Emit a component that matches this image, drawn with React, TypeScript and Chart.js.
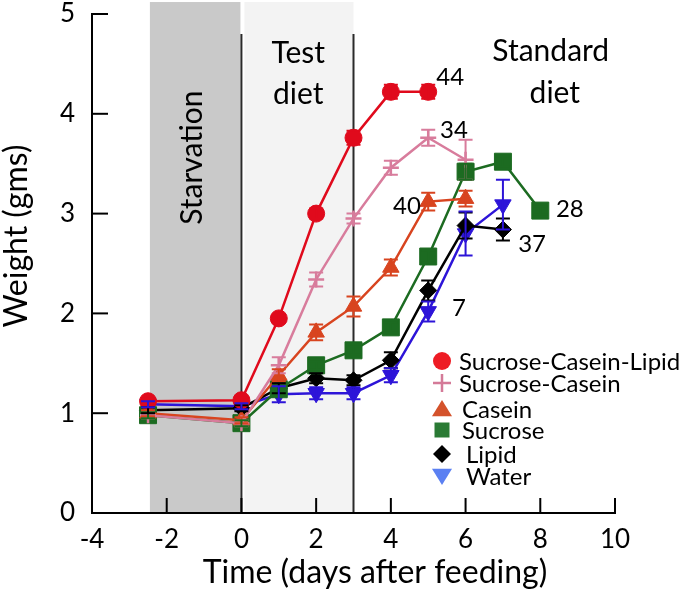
import React, { useEffect, useRef } from 'react';
import { Chart, registerables } from 'chart.js';

Chart.register(...registerables);

const FONT = 'Lato, "Open Sans", "DejaVu Sans", sans-serif';

// ---------------- data ----------------
const seriesNames = ['Sucrose-Casein-Lipid', 'Sucrose-Casein', 'Casein', 'Sucrose', 'Lipid', 'Water'];

const sclDays = [-2.5, 0, 1, 2, 3, 4, 5];
const sclWeight = [1.12, 1.13, 1.95, 3.0, 3.76, 4.22, 4.22];
const sclError = [0.03, 0.03, 0.04, 0.05, 0.07, 0.07, 0.07];

const scDays = [-2.5, 0, 1, 2, 3, 4, 5, 6];
const scWeight = [0.98, 0.9, 1.48, 2.34, 2.95, 3.46, 3.76, 3.54];
const scError = [0.03, 0.03, 0.08, 0.07, 0.05, 0.07, 0.08, 0.2];

const caseinDays = [-2.5, 0, 1, 2, 3, 4, 5, 6];
const caseinWeight = [1.0, 0.93, 1.38, 1.81, 2.07, 2.46, 3.12, 3.15];
const caseinError = [0.03, 0.03, 0.06, 0.08, 0.1, 0.08, 0.09, 0.08];

const sucroseDays = [-2.5, 0, 1, 2, 3, 4, 5, 6, 7, 8];
const sucroseWeight = [0.98, 0.9, 1.24, 1.48, 1.63, 1.86, 2.57, 3.42, 3.52, 3.03];
const sucroseError = [0.03, 0.03, 0.04, 0.04, 0.04, 0.05, 0.06, 0.08, 0.05, 0.04];

const lipidDays = [-2.5, 0, 1, 2, 3, 4, 5, 6, 7];
const lipidWeight = [1.03, 1.05, 1.25, 1.35, 1.33, 1.53, 2.23, 2.88, 2.84];
const lipidError = [0.03, 0.03, 0.05, 0.05, 0.05, 0.08, 0.1, 0.13, 0.11];

const waterDays = [-2.5, 0, 1, 2, 3, 4, 5, 6, 7];
const waterWeight = [1.09, 1.07, 1.19, 1.2, 1.2, 1.38, 2.02, 2.8, 3.09];
const waterError = [0.03, 0.03, 0.08, 0.06, 0.06, 0.07, 0.1, 0.22, 0.25];

// numeric annotations (n per group)
const noteLabels = ['44', '34', '40', '28', '37', '7'];
const noteDays = [5.59, 5.69, 4.43, 8.79, 7.78, 5.82];
const noteWeights = [4.37, 3.84, 3.07, 3.04, 2.69, 2.05];

// phases
const starvationStart = -2.45;
const testDietStart = 0;
const testDietEnd = 3;

const xTickValues = [-4, -2, 0, 2, 4, 6, 8, 10];
const yTickValues = [0, 1, 2, 3, 4, 5];

const xTitle = 'Time (days after feeding)';
const yTitle = 'Weight (gms)';

// ---------------- styles ----------------
const lineColors = ['#e00a1c', '#d87c9c', '#d8441f', '#1c6b21', '#000000', '#2d14d8'];
const legendColors = ['#ee1c24', '#d47a98', '#d4522b', '#2a7a34', '#000000', '#5b80f2'];
const pointStyles = ['circle', 'cross', 'triangle', 'rect', 'rectRot', 'triangle'];
const pointRadii = [8.5, 8, 9.5, 12, 8.5, 9.5];
const pointRotations = [0, 0, 0, 0, 0, 180];

const allDays = [sclDays, scDays, caseinDays, sucroseDays, lipidDays, waterDays];
const allWeights = [sclWeight, scWeight, caseinWeight, sucroseWeight, lipidWeight, waterWeight];
const allErrors = [sclError, scError, caseinError, sucroseError, lipidError, waterError];

function drawMarker(ctx: CanvasRenderingContext2D, style: string, x: number, y: number, r: number, color: string, rot = 0) {
  ctx.save();
  ctx.fillStyle = color;
  ctx.strokeStyle = color;
  ctx.beginPath();
  if (style === 'circle') {
    ctx.arc(x, y, r, 0, Math.PI * 2);
    ctx.fill();
  } else if (style === 'cross') {
    ctx.lineWidth = 2.5;
    ctx.moveTo(x - r, y);
    ctx.lineTo(x + r, y);
    ctx.moveTo(x, y - r);
    ctx.lineTo(x, y + r);
    ctx.stroke();
  } else if (style === 'triangle') {
    const dir = rot === 180 ? -1 : 1;
    const h = r * 0.9;
    ctx.moveTo(x, y - dir * h);
    ctx.lineTo(x + r, y + dir * h * 0.8);
    ctx.lineTo(x - r, y + dir * h * 0.8);
    ctx.closePath();
    ctx.fill();
  } else if (style === 'rect') {
    ctx.rect(x - r, y - r, 2 * r, 2 * r);
    ctx.fill();
  } else if (style === 'rectRot') {
    ctx.moveTo(x, y - r);
    ctx.lineTo(x + r, y);
    ctx.lineTo(x, y + r);
    ctx.lineTo(x - r, y);
    ctx.closePath();
    ctx.fill();
  }
  ctx.restore();
}

const bandsPlugin = {
  id: 'bands',
  beforeDraw(chart: any) {
    const { ctx, chartArea, scales } = chart;
    const x = scales.x;
    const y = scales.y;
    const top = y.getPixelForValue(5.12);
    const bottom = chartArea.bottom;
    const xs = x.getPixelForValue(starvationStart);
    const x0 = x.getPixelForValue(testDietStart);
    const x3 = x.getPixelForValue(testDietEnd);
    ctx.save();
    ctx.fillStyle = '#c9c9c9';
    ctx.fillRect(xs, top, x0 - 1 - xs, bottom - top);
    ctx.fillStyle = '#f3f3f3';
    ctx.fillRect(x0 + 3, top, x3 - x0 - 3, bottom - top);
    ctx.strokeStyle = '#2a2a2a';
    ctx.lineWidth = 2;
    const lineTop = y.getPixelForValue(4.8);
    [x0, x3].forEach((px: number) => {
      ctx.beginPath();
      ctx.moveTo(px, lineTop);
      ctx.lineTo(px, bottom);
      ctx.stroke();
    });
    ctx.restore();
  },
};

const errorBarPlugin = {
  id: 'errorBars',
  afterDatasetsDraw(chart: any) {
    const { ctx, scales } = chart;
    const y = scales.y;
    ctx.save();
    chart.data.datasets.forEach((ds: any, di: number) => {
      const meta = chart.getDatasetMeta(di);
      ctx.strokeStyle = ds.borderColor;
      ctx.lineWidth = 2;
      meta.data.forEach((pt: any, i: number) => {
        const e = ds.errors[i];
        if (!e) return;
        const v = ds.data[i].y;
        const yt = y.getPixelForValue(v + e);
        const yb = y.getPixelForValue(v - e);
        const cx = pt.x;
        ctx.beginPath();
        ctx.moveTo(cx, yt);
        ctx.lineTo(cx, yb);
        ctx.moveTo(cx - 7, yt);
        ctx.lineTo(cx + 7, yt);
        ctx.moveTo(cx - 7, yb);
        ctx.lineTo(cx + 7, yb);
        ctx.stroke();
      });
    });
    ctx.restore();
  },
};

const decorPlugin = {
  id: 'decor',
  afterDraw(chart: any) {
    const { ctx, chartArea, scales } = chart;
    const x = scales.x;
    const y = scales.y;
    ctx.save();
    // inward tick marks
    ctx.strokeStyle = '#000';
    ctx.lineWidth = 2;
    xTickValues.forEach((v) => {
      if (v === -4) return;
      const px = x.getPixelForValue(v);
      ctx.beginPath();
      ctx.moveTo(px, chartArea.bottom);
      ctx.lineTo(px, chartArea.bottom - 15);
      ctx.stroke();
    });
    yTickValues.forEach((v) => {
      const py = y.getPixelForValue(v);
      ctx.beginPath();
      ctx.moveTo(chartArea.left, py);
      ctx.lineTo(chartArea.left + 16, py);
      ctx.stroke();
    });

    ctx.fillStyle = '#000';

    // axis titles
    ctx.font = `32px ${FONT}`;
    ctx.textAlign = 'center';
    ctx.textBaseline = 'alphabetic';
    ctx.fillText(xTitle, 375, 583);
    ctx.save();
    ctx.translate(27, 236);
    ctx.rotate(-Math.PI / 2);
    ctx.fillText(yTitle, 0, 0);
    ctx.restore();

    // phase labels
    ctx.textBaseline = 'middle';
    ctx.font = `30px ${FONT}`;
    ctx.fillText('Test', x.getPixelForValue(1.52), y.getPixelForValue(4.61));
    ctx.fillText('diet', x.getPixelForValue(1.52), y.getPixelForValue(4.2));
    ctx.fillText('Standard', x.getPixelForValue(8.28), y.getPixelForValue(4.63));
    ctx.fillText('diet', x.getPixelForValue(8.39), y.getPixelForValue(4.21));
    ctx.save();
    ctx.translate(x.getPixelForValue(-1.31), y.getPixelForValue(3.56));
    ctx.rotate(-Math.PI / 2);
    ctx.fillText('Starvation', 0, 0);
    ctx.restore();

    // n labels
    ctx.font = `24px ${FONT}`;
    noteLabels.forEach((t, i) => {
      ctx.fillText(t, x.getPixelForValue(noteDays[i]), y.getPixelForValue(noteWeights[i]));
    });

    // legend
    const legendRows = [361, 383, 409, 430, 454, 476];
    const legendMarkerX = 442;
    const legendTextX = [459, 459, 462, 462, 466, 466];
    const legendRadii = [9, 9, 10, 7.5, 9, 10];
    ctx.font = `24px ${FONT}`;
    ctx.textAlign = 'left';
    seriesNames.forEach((name, i) => {
      drawMarker(ctx, pointStyles[i], legendMarkerX, legendRows[i], legendRadii[i], legendColors[i], pointRotations[i]);
      ctx.fillStyle = '#000';
      ctx.fillText(name, legendTextX[i], legendRows[i] + 1);
    });
    ctx.restore();
  },
};

export default function App() {
  const canvasRef = useRef<HTMLCanvasElement | null>(null);

  useEffect(() => {
    document.body.style.margin = '0';
    const canvas = canvasRef.current;
    if (!canvas) return;

    const datasets = seriesNames.map((name, i) => ({
      label: name,
      data: allDays[i].map((d, j) => ({ x: d, y: allWeights[i][j] })),
      errors: allErrors[i],
      borderColor: lineColors[i],
      backgroundColor: lineColors[i],
      pointBackgroundColor: lineColors[i],
      pointBorderColor: lineColors[i],
      pointStyle: pointStyles[i],
      pointRadius: pointRadii[i],
      pointRotation: pointRotations[i],
      pointBorderWidth: pointStyles[i] === 'cross' ? 2.5 : 1,
      borderWidth: 2.5,
      showLine: true,
      tension: 0,
      fill: false,
    }));

    const chart = new Chart(canvas, {
      type: 'scatter',
      data: { datasets } as any,
      options: {
        responsive: false,
        animation: false,
        events: [],
        layout: { autoPadding: false, padding: { top: 14, right: 65, left: 0, bottom: 0 } },
        plugins: {
          legend: { display: false },
          tooltip: { enabled: false },
        },
        scales: {
          x: {
            type: 'linear',
            min: -4,
            max: 10,
            afterFit: (s: any) => { s.height = 81; s.paddingLeft = 0; s.paddingRight = 0; },
            afterBuildTicks: (s: any) => { s.ticks = xTickValues.map((v) => ({ value: v })); },
            grid: { display: true, drawOnChartArea: false, drawTicks: false },
            border: { display: true, color: '#000', width: 2 },
            ticks: { color: '#000', font: { family: FONT, size: 26 }, padding: 11, maxRotation: 0 },
          },
          y: {
            type: 'linear',
            min: 0,
            max: 5,
            afterFit: (s: any) => { s.width = 92; s.paddingTop = 0; s.paddingBottom = 0; },
            afterBuildTicks: (s: any) => { s.ticks = yTickValues.map((v) => ({ value: v })); },
            grid: { display: true, drawOnChartArea: false, drawTicks: false },
            border: { display: true, color: '#000', width: 2 },
            ticks: { color: '#000', font: { family: FONT, size: 26 }, padding: 17 },
          },
        },
      } as any,
      plugins: [bandsPlugin, errorBarPlugin, decorPlugin],
    });

    return () => chart.destroy();
  }, []);

  return (
    <div style={{ width: 680, height: 594 }}>
      <canvas ref={canvasRef} width={680} height={594} />
    </div>
  );
}
